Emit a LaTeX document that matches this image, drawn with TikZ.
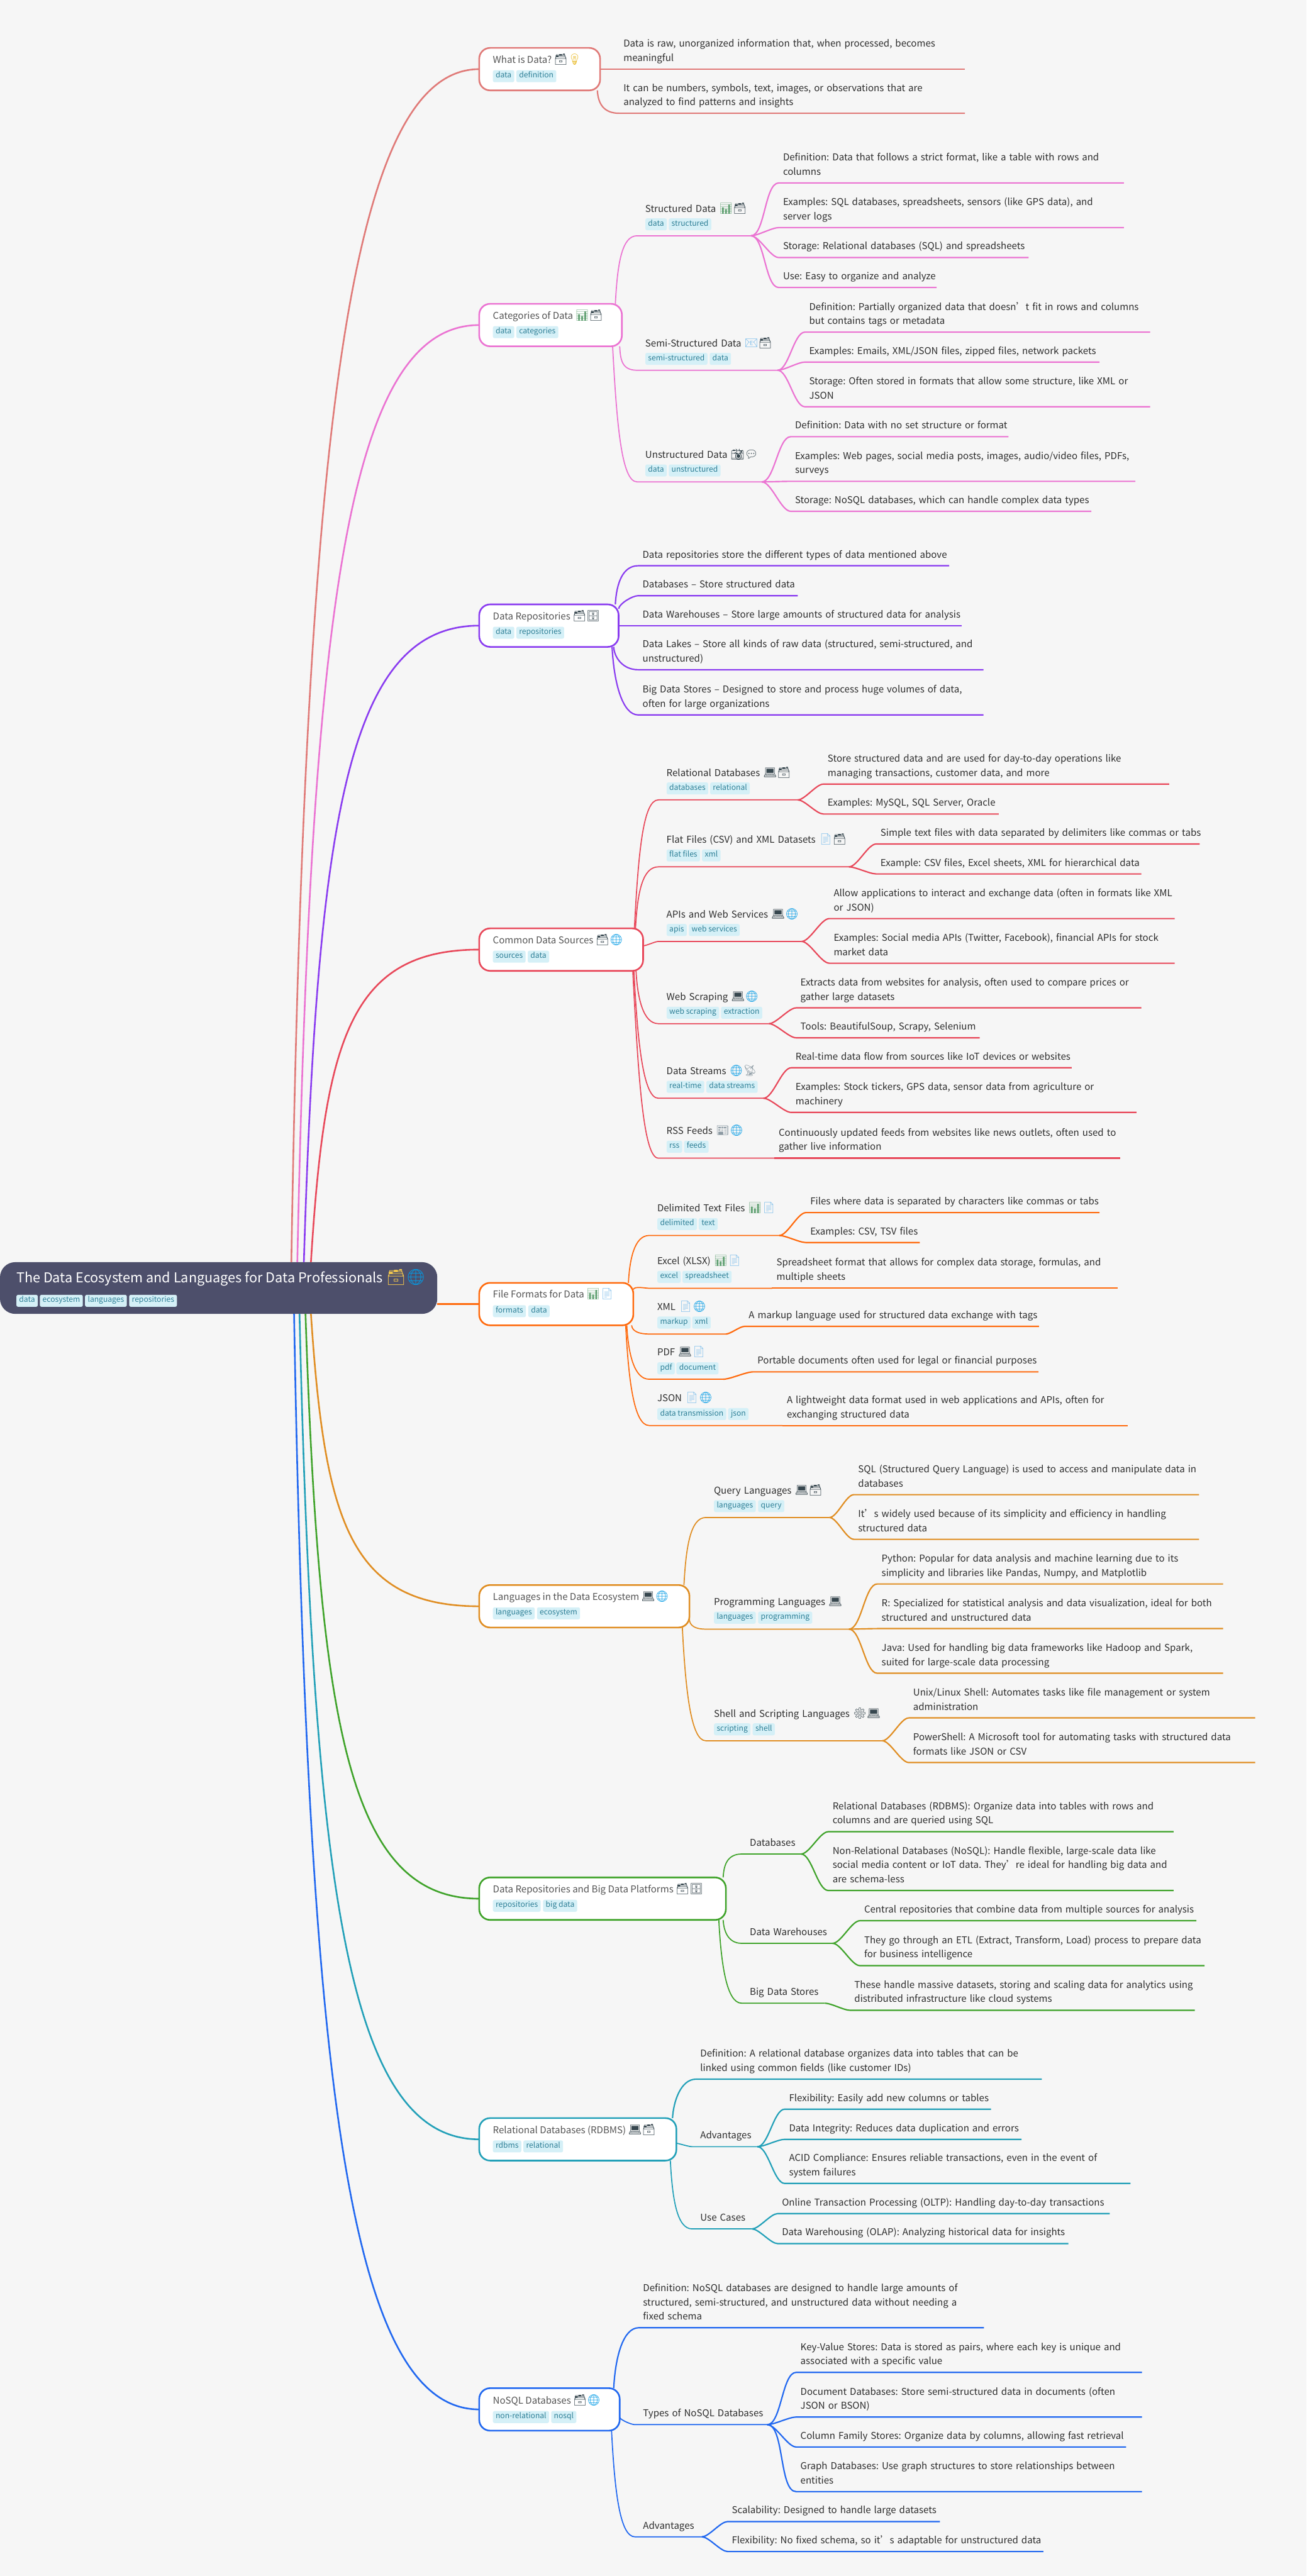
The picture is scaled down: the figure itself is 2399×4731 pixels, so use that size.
\documentclass[tikz,border=0pt]{standalone}
\usepackage{fontspec}
\setmainfont{Noto Sans CJK SC}
\newfontfamily\emojifont[Scale=1.15]{Noto Emoji}
\hyphenpenalty=10000
\exhyphenpenalty=10000
\AtBeginDocument{\frenchspacing}
\definecolor{pagebg}{HTML}{F6F6F6}
\definecolor{rootbg}{HTML}{4D4F6B}
\definecolor{tagbg}{HTML}{D5F0F7}
\definecolor{tagtxt}{HTML}{2E7F96}
\definecolor{titletxt}{HTML}{555555}
\definecolor{leaftxt}{HTML}{2E2E2E}
\definecolor{csalmon}{HTML}{E07A78}
\definecolor{cpink}{HTML}{EB73D2}
\definecolor{cpurple}{HTML}{8A3CF0}
\definecolor{cred}{HTML}{E8485A}
\definecolor{corange}{HTML}{FF6A0D}
\definecolor{camber}{HTML}{E08E23}
\definecolor{cgreen}{HTML}{3FA32A}
\definecolor{cteal}{HTML}{22A0B8}
\definecolor{cblue}{HTML}{2168F0}
\definecolor{idark}{HTML}{37474F}
\definecolor{iyellow}{HTML}{EDC34F}
\definecolor{iglobe}{HTML}{039BE5}
\definecolor{ibulb}{HTML}{E8B820}
\definecolor{ichart}{HTML}{5C9E6E}
\definecolor{ipage}{HTML}{7CBDEB}
\definecolor{igrey}{HTML}{8C9AA3}
\newcommand{\iconcard}{{\emojifont\color{idark}🗃}}
\newcommand{\iconcardroot}{{\emojifont\color{iyellow}🗃}}
\newcommand{\iconglobe}{{\emojifont\color{iglobe}🌐}}
\newcommand{\iconbulb}{{\emojifont\color{ibulb}💡}}
\newcommand{\iconchart}{{\emojifont\color{ichart}📊}}
\newcommand{\iconmail}{{\emojifont\color{ipage}📧}}
\newcommand{\iconcam}{{\emojifont\color{idark}📸}}
\newcommand{\iconchat}{{\emojifont\color{idark}💬}}
\newcommand{\iconcab}{{\emojifont\color{idark}🗄}}
\newcommand{\iconpc}{{\emojifont\color{idark}💻}}
\newcommand{\iconpage}{{\emojifont\color{ipage}📄}}
\newcommand{\icondish}{{\emojifont\color{igrey}📡}}
\newcommand{\iconnews}{{\emojifont\color{igrey}📰}}
\newcommand{\icongear}{{\emojifont\color{idark}⚙}}
\begin{document}
\begin{tikzpicture}[x=1pt,y=-1pt]
    \tikzset{
        rootbox/.style = {rectangle, rounded corners=28pt, fill=rootbg, inner sep=0pt, outer sep=0pt, minimum width=803pt, minimum height=95pt, anchor=north west},
        roottitle/.style = {anchor=west, inner sep=0pt, yshift=-2pt, text=white, text height=18pt, text depth=6pt, font=\fontsize{25}{34}\selectfont},
        topicbox/.style = {rectangle, rounded corners=20pt, draw=#1, fill=white, line width=3pt, inner sep=0pt, outer sep=0pt, minimum height=78pt, anchor=west},
        topictitle/.style = {anchor=west, inner sep=0pt, yshift=-1pt, text=titletxt, text height=13pt, text depth=5pt, font=\fontsize{17.4}{26}\selectfont},
        tagnode/.style = {rectangle, rounded corners=3pt, fill=tagbg, text=tagtxt, anchor=west, inner xsep=5pt, inner ysep=0pt, minimum height=22pt, text height=10pt, text depth=4pt, font=\fontsize{14}{18}\selectfont},
        leaf/.style = {anchor=south west, align=left, inner xsep=8pt, inner ysep=0pt, outer sep=0pt, text=leaftxt, font=\fontsize{17.4}{26}\selectfont, execute at begin node={\rightskip=-60pt plus 1fil}, execute at end node={\rule[-14.5pt]{0pt}{1pt}}},
        sub/.style = {anchor=south west, align=left, inner sep=0pt, outer sep=0pt, text=leaftxt, font=\fontsize{17.4}{26}\selectfont, execute at begin node={\hspace*{15pt}}, execute at end node={\rule[-#1]{0pt}{1pt}}},
        rootedge/.style = {line width=3pt, draw=#1},
        subedge/.style = {line width=2pt, draw=#1},
        leafedge/.style = {line width=2.5pt, draw=#1},
        hubto/.style = {out=0, in=180, looseness=.6},
        rise/.style = {out=87, in=180, out distance=#1, in distance=28pt},
        fall/.style = {out=-87, in=180, out distance=#1, in distance=28pt},
    }
    \path[use as bounding box, fill=pagebg] (0,0) rectangle (2399,4731);
    %
    \node[rootbox] at (0,2318) (root) {};
    \node[roottitle] at (30,2348) (roott) {The Data Ecosystem and Languages for Data Professionals \iconcardroot\iconglobe};
    \node[tagnode] at (30,2389) (rootg1) {data};
    \node[tagnode] at (73,2389) (rootg2) {ecosystem};
    \node[tagnode] at (156,2389) (rootg3) {languages};
    \node[tagnode] at (237,2389) (rootg4) {repositories};
    %
    \node[topicbox=csalmon, minimum width=222pt] at (880,127) (whatis) {};
    \node[topictitle] at (905,111) (whatist) {What is Data? \iconcard\iconbulb};
    \node[tagnode] at (905,140) (whatisg1) {data};
    \node[tagnode] at (948,140) (whatisg2) {definition};
    \node[leaf, text width=619pt] at (1137,127) (wi1) {Data is raw, unorganized information that, when processed, becomes\\meaningful};
    \node[leaf, text width=619pt] at (1137,208) (wi2) {It can be numbers, symbols, text, images, or observations that are\\analyzed to find patterns and insights};
    %
    \node[topicbox=cpink, minimum width=262pt] at (880,597) (cats) {};
    \node[topictitle] at (905,581) (catst) {Categories of Data \iconchart\iconcard};
    \node[tagnode] at (905,610) (catsg1) {data};
    \node[tagnode] at (948,610) (catsg2) {categories};
    \node[sub=43.5pt, text width=209pt] at (1170,433) (sdata) {Structured Data \iconchart\iconcard};
    \node[tagnode] at (1185,412) (sdatag1) {data};
    \node[tagnode] at (1228,412) (sdatag2) {structured};
    \node[leaf, text width=618pt] at (1430,336) (st1) {Definition: Data that follows a strict format, like a table with rows and\\columns};
    \node[leaf, text width=618pt] at (1430,418) (st2) {Examples: SQL databases, spreadsheets, sensors (like GPS data), and\\server logs};
    \node[leaf, text width=443pt] at (1430,473) (st3) {Storage: Relational databases (SQL) and spreadsheets};
    \node[leaf, text width=274pt] at (1430,528) (st4) {Use: Easy to organize and analyze};
    \node[sub=43.5pt, text width=258pt] at (1170,680) (ssdata) {Semi-Structured Data \iconmail\iconcard};
    \node[tagnode] at (1185,659) (ssdatag1) {semi-structured};
    \node[tagnode] at (1303,659) (ssdatag2) {data};
    \node[leaf, text width=618pt] at (1478,610) (ss1) {Definition: Partially organized data that doesn’t fit in rows and columns\\but contains tags or metadata};
    \node[leaf, text width=525pt] at (1478,665) (ss2) {Examples: Emails, XML/JSON files, zipped files, network packets};
    \node[leaf, text width=618pt] at (1478,747) (ss3) {Storage: Often stored in formats that allow some structure, like XML or\\JSON};
    \node[sub=43.5pt, text width=229pt] at (1170,885) (usdata) {Unstructured Data \iconcam\iconchat};
    \node[tagnode] at (1185,864) (usdatag1) {data};
    \node[tagnode] at (1228,864) (usdatag2) {unstructured};
    \node[leaf, text width=384pt] at (1452,802) (us1) {Definition: Data with no set structure or format};
    \node[leaf, text width=617pt] at (1452,884) (us2) {Examples: Web pages, social media posts, images, audio/video files, PDFs,\\surveys};
    \node[leaf, text width=536pt] at (1452,939) (us3) {Storage: NoSQL databases, which can handle complex data types};
    %
    \node[topicbox=cpurple, minimum width=256pt] at (880,1149) (repos) {};
    \node[topictitle] at (905,1133) (repost) {Data Repositories \iconcard\iconcab};
    \node[tagnode] at (905,1162) (reposg1) {data};
    \node[tagnode] at (948,1162) (reposg2) {repositories};
    \node[leaf, text width=555pt] at (1172,1039) (dr1) {Data repositories store the different types of data mentioned above};
    \node[leaf, text width=277pt] at (1172,1094) (dr2) {Databases – Store structured data};
    \node[leaf, text width=578pt] at (1172,1149) (dr3) {Data Warehouses – Store large amounts of structured data for analysis};
    \node[leaf, text width=618pt] at (1172,1230) (dr4) {Data Lakes – Store all kinds of raw data (structured, semi-structured, and\\unstructured)};
    \node[leaf, text width=618pt] at (1172,1313) (dr5) {Big Data Stores – Designed to store and process huge volumes of data,\\often for large organizations};
    %
    \node[topicbox=cred, minimum width=301pt] at (880,1744) (common) {};
    \node[topictitle] at (905,1728) (commont) {Common Data Sources \iconcard\iconglobe};
    \node[tagnode] at (905,1757) (commong1) {sources};
    \node[tagnode] at (969,1757) (commong2) {data};
    \node[sub=43.5pt, text width=256pt] at (1209,1469) (reldb) {Relational Databases \iconpc\iconcard};
    \node[tagnode] at (1224,1448) (reldbg1) {databases};
    \node[tagnode] at (1304,1448) (reldbg2) {relational};
    \node[leaf, text width=619pt] at (1512,1440) (rd1) {Store structured data and are used for day-to-day operations like\\managing transactions, customer data, and more};
    \node[leaf, text width=306pt] at (1512,1495) (rd2) {Examples: MySQL, SQL Server, Oracle};
    \node[sub=43.5pt, text width=350pt] at (1209,1592) (flat) {Flat Files (CSV) and XML Datasets \iconpage\iconcard};
    \node[tagnode] at (1224,1571) (flatg1) {flat files};
    \node[tagnode] at (1289,1571) (flatg2) {xml};
    \node[leaf, text width=578pt] at (1609,1550) (ff1) {Simple text files with data separated by delimiters like commas or tabs};
    \node[leaf, text width=471pt] at (1609,1605) (ff2) {Example: CSV files, Excel sheets, XML for hierarchical data};
    \node[sub=43.5pt, text width=263pt] at (1209,1729) (apis) {APIs and Web Services \iconpc\iconglobe};
    \node[tagnode] at (1224,1708) (apisg1) {apis};
    \node[tagnode] at (1265,1708) (apisg2) {web services};
    \node[leaf, text width=618pt] at (1523,1687) (ap1) {Allow applications to interact and exchange data (often in formats like XML\\or JSON)};
    \node[leaf, text width=618pt] at (1523,1769) (ap2) {Examples: Social media APIs (Twitter, Facebook), financial APIs for stock\\market data};
    \node[sub=43.5pt, text width=203pt] at (1209,1880) (scrape) {Web Scraping \iconpc\iconglobe};
    \node[tagnode] at (1224,1860) (scrapeg1) {web scraping};
    \node[tagnode] at (1324,1860) (scrapeg2) {extraction};
    \node[leaf, text width=618pt] at (1462,1851) (ws1) {Extracts data from websites for analysis, often used to compare prices or\\gather large datasets};
    \node[leaf, text width=321pt] at (1462,1906) (ws2) {Tools: BeautifulSoup, Scrapy, Selenium};
    \node[sub=43.5pt, text width=193pt] at (1209,2017) (streams) {Data Streams \iconglobe\icondish};
    \node[tagnode] at (1224,1996) (streamsg1) {real-time};
    \node[tagnode] at (1297,1996) (streamsg2) {data streams};
    \node[leaf, text width=499pt] at (1453,1961) (ds1) {Real-time data flow from sources like IoT devices or websites};
    \node[leaf, text width=618pt] at (1453,2043) (ds2) {Examples: Stock tickers, GPS data, sensor data from agriculture or\\machinery};
    \node[sub=43.5pt, text width=213pt] at (1209,2127) (rss) {RSS Feeds \iconnews\iconglobe};
    \node[tagnode] at (1224,2106) (rssg1) {rss};
    \node[tagnode] at (1256,2106) (rssg2) {feeds};
    \node[leaf, text width=619pt] at (1422,2127) (rs1) {Continuously updated feeds from websites like news outlets, often used to\\gather live information};
    %
    \node[topicbox=corange, minimum width=283pt] at (880,2395) (fmt) {};
    \node[topictitle] at (905,2378) (fmtt) {File Formats for Data \iconchart\iconpage};
    \node[tagnode] at (905,2408) (fmtg1) {formats};
    \node[tagnode] at (970,2408) (fmtg2) {data};
    \node[sub=43.5pt, text width=239pt] at (1192,2269) (delim) {Delimited Text Files \iconchart\iconpage};
    \node[tagnode] at (1207,2248) (delimg1) {delimited};
    \node[tagnode] at (1283,2248) (delimg2) {text};
    \node[leaf, text width=523pt] at (1480,2227) (dt1) {Files where data is separated by characters like commas or tabs};
    \node[leaf, text width=193pt] at (1480,2282) (dt2) {Examples: CSV, TSV files};
    \node[sub=43.5pt, text width=226pt] at (1192,2366) (excel) {Excel (XLSX) \iconchart\iconpage};
    \node[tagnode] at (1207,2345) (excelg1) {excel};
    \node[tagnode] at (1253,2345) (excelg2) {spreadsheet};
    \node[leaf, text width=618pt] at (1418,2365) (ex1) {Spreadsheet format that allows for complex data storage, formulas, and\\multiple sheets};
    \node[sub=43.5pt, text width=141pt] at (1192,2450) (xmlf) {XML \iconpage\iconglobe};
    \node[tagnode] at (1207,2429) (xmlfg1) {markup};
    \node[tagnode] at (1271,2429) (xmlfg2) {xml};
    \node[leaf, text width=525pt] at (1367,2436) (xm1) {A markup language used for structured data exchange with tags};
    \node[sub=43.5pt, text width=136pt] at (1192,2533) (pdff) {PDF \iconpc\iconpage};
    \node[tagnode] at (1207,2513) (pdffg1) {pdf};
    \node[tagnode] at (1242,2513) (pdffg2) {document};
    \node[leaf, text width=508pt] at (1383,2519.5) (pd1) {Portable documents often used for legal or financial purposes};
    \node[sub=43.5pt, text width=245pt] at (1192,2618) (jsonf) {JSON \iconpage\iconglobe};
    \node[tagnode] at (1207,2597) (jsonfg1) {data transmission};
    \node[tagnode] at (1337,2597) (jsonfg2) {json};
    \node[leaf, text width=618pt] at (1437,2618) (js1) {A lightweight data format used in web applications and APIs, often for\\exchanging structured data};
    %
    \node[topicbox=camber, minimum width=386pt] at (880,2950) (lang) {};
    \node[topictitle] at (905,2934) (langt) {Languages in the Data Ecosystem \iconpc\iconglobe};
    \node[tagnode] at (905,2963) (langg1) {languages};
    \node[tagnode] at (986,2963) (langg2) {ecosystem};
    \node[sub=43.5pt, text width=227pt] at (1296,2787) (query) {Query Languages \iconpc\iconcard};
    \node[tagnode] at (1311,2766) (queryg1) {languages};
    \node[tagnode] at (1392,2766) (queryg2) {query};
    \node[leaf, text width=618pt] at (1568,2745) (ql1) {SQL (Structured Query Language) is used to access and manipulate data in\\databases};
    \node[leaf, text width=618pt] at (1568,2827) (ql2) {It’s widely used because of its simplicity and efficiency in handling\\structured data};
    \node[sub=43.5pt, text width=263pt] at (1296,2992) (prog) {Programming Languages \iconpc};
    \node[tagnode] at (1311,2971) (progg1) {languages};
    \node[tagnode] at (1392,2971) (progg2) {programming};
    \node[leaf, text width=619pt] at (1611,2909) (pl1) {Python: Popular for data analysis and machine learning due to its\\simplicity and libraries like Pandas, Numpy, and Matplotlib};
    \node[leaf, text width=619pt] at (1611,2991) (pl2) {R: Specialized for statistical analysis and data visualization, ideal for both\\structured and unstructured data};
    \node[leaf, text width=619pt] at (1611,3073) (pl3) {Java: Used for handling big data frameworks like Hadoop and Spark,\\suited for large-scale data processing};
    \node[sub=43.5pt, text width=324pt] at (1296,3197) (shell) {Shell and Scripting Languages \icongear\iconpc};
    \node[tagnode] at (1311,3176) (shellg1) {scripting};
    \node[tagnode] at (1382,3176) (shellg2) {shell};
    \node[leaf, text width=620pt] at (1669,3155) (sh1) {Unix/Linux Shell: Automates tasks like file management or system\\administration};
    \node[leaf, text width=620pt] at (1669,3237) (sh2) {PowerShell: A Microsoft tool for automating tasks with structured data\\formats like JSON or CSV};
    %
    \node[topicbox=cgreen, minimum width=453pt] at (880,3487) (plat) {};
    \node[topictitle] at (905,3471) (platt) {Data Repositories and Big Data Platforms \iconcard\iconcab};
    \node[tagnode] at (905,3500) (platg1) {repositories};
    \node[tagnode] at (997,3500) (platg2) {big data};
    \node[sub=14.5pt, text width=109pt] at (1362,3405) (bdb) {Databases};
    \node[leaf, text width=618pt] at (1521,3364) (bd1) {Relational Databases (RDBMS): Organize data into tables with rows and\\columns and are queried using SQL};
    \node[leaf, text width=618pt] at (1521,3472) (bd2) {Non-Relational Databases (NoSQL): Handle flexible, large-scale data like\\social media content or IoT data. They’re ideal for handling big data and\\are schema-less};
    \node[sub=14.5pt, text width=167pt] at (1362,3569) (bdw) {Data Warehouses};
    \node[leaf, text width=602pt] at (1579,3527.5) (bw1) {Central repositories that combine data from multiple sources for analysis};
    \node[leaf, text width=617pt] at (1579,3610) (bw2) {They go through an ETL (Extract, Transform, Load) process to prepare data\\for business intelligence};
    \node[sub=14.5pt, text width=153pt] at (1362,3679) (bds) {Big Data Stores};
    \node[leaf, text width=617pt] at (1561,3692) (bs1) {These handle massive datasets, storing and scaling data for analytics using\\distributed infrastructure like cloud systems};
    %
    \node[topicbox=cteal, minimum width=362pt] at (880,3929) (rdbms) {};
    \node[topictitle] at (905,3913) (rdbmst) {Relational Databases (RDBMS) \iconpc\iconcard};
    \node[tagnode] at (905,3942) (rdbmsg1) {rdbms};
    \node[tagnode] at (961,3942) (rdbmsg2) {relational};
    \node[leaf, text width=619pt] at (1278,3818.5) (rl1) {Definition: A relational database organizes data into tables that can be\\linked using common fields (like customer IDs)};
    \node[sub=14.5pt, text width=120pt] at (1271,3942.5) (radv) {Advantages};
    \node[leaf, text width=363pt] at (1441,3873.6) (ra1) {Flexibility: Easily add new columns or tables};
    \node[leaf, text width=419pt] at (1441,3929) (ra2) {Data Integrity: Reduces data duplication and errors};
    \node[leaf, text width=619pt] at (1441,4010) (ra3) {ACID Compliance: Ensures reliable transactions, even in the event of\\system failures};
    \node[sub=14.5pt, text width=110pt] at (1271,4093.5) (ruse) {Use Cases};
    \node[leaf, text width=594pt] at (1428,4065.4) (ru1) {Online Transaction Processing (OLTP): Handling day-to-day transactions};
    \node[leaf, text width=518pt] at (1428,4120.5) (ru2) {Data Warehousing (OLAP): Analyzing historical data for insights};
    %
    \node[topicbox=cblue, minimum width=258pt] at (880,4425) (nosql) {};
    \node[topictitle] at (905,4410) (nosqlt) {NoSQL Databases \iconcard\iconglobe};
    \node[tagnode] at (905,4439) (nosqlg1) {non-relational};
    \node[tagnode] at (1012,4439) (nosqlg2) {nosql};
    \node[leaf, text width=618pt] at (1173,4275) (nq1) {Definition: NoSQL databases are designed to handle large amounts of\\structured, semi-structured, and unstructured data without needing a\\fixed schema};
    \node[sub=14.5pt, text width=243pt] at (1166,4453) (ntypes) {Types of NoSQL Databases};
    \node[leaf, text width=619pt] at (1462,4357) (nt1) {Key-Value Stores: Data is stored as pairs, where each key is unique and\\associated with a specific value};
    \node[leaf, text width=619pt] at (1462,4439) (nt2) {Document Databases: Store semi-structured data in documents (often\\JSON or BSON)};
    \node[leaf, text width=590pt] at (1462,4494) (nt3) {Column Family Stores: Organize data by columns, allowing fast retrieval};
    \node[leaf, text width=619pt] at (1462,4576) (nt4) {Graph Databases: Use graph structures to store relationships between\\entities};
    \node[sub=14.5pt, text width=123pt] at (1166,4659) (nadv) {Advantages};
    \node[leaf, text width=374pt] at (1336,4631) (na1) {Scalability: Designed to handle large datasets};
    \node[leaf, text width=564pt] at (1336,4686) (na2) {Flexibility: No fixed schema, so it’s adaptable for unstructured data};
    %
    \draw[rootedge=csalmon] ([xshift=133.5pt]root.north) .. controls (560,800) and (640,127) .. (whatis.west);
    \draw[rootedge=cpink] ([xshift=144.5pt]root.north) .. controls (571,1113) and (640,597) .. (cats.west);
    \draw[rootedge=cpurple] ([xshift=156.5pt]root.north) .. controls (583,1500) and (640,1149) .. (repos.west);
    \draw[rootedge=cred] ([xshift=169.5pt]root.north) .. controls (596,1916) and (640,1744) .. (common.west);
    \draw[rootedge=corange, line width=4pt] (root.east |- fmt.west) -- (fmt.west);
    \draw[rootedge=camber] ([xshift=169.5pt]root.south) .. controls (596,2789) and (640,2950) .. (lang.west);
    \draw[rootedge=cgreen] ([xshift=159.5pt]root.south) .. controls (586,3165) and (640,3487) .. (plat.west);
    \draw[rootedge=cteal] ([xshift=148.5pt]root.south) .. controls (575,3474) and (640,3929) .. (rdbms.west);
    \draw[rootedge=cblue] ([xshift=138.5pt]root.south) .. controls (565,3821) and (640,4425) .. (nosql.west);
    %
    \draw[leafedge=csalmon] (whatis.east) -- (wi1.south west) -- (wi1.south east);
    \draw[leafedge=csalmon] ([xshift=-5pt]whatis.south east) to[fall=25pt] (wi2.south west) -- (wi2.south east);
    %
    \draw[subedge=cpink] ([xshift=-12pt]cats.north east) to[rise=75pt] (sdata.south west) -- (sdata.south east);
    \draw[leafedge=cpink] (sdata.south east) to[hubto] (st1.south west) -- (st1.south east);
    \draw[leafedge=cpink] (sdata.south east) to[hubto] (st2.south west) -- (st2.south east);
    \draw[leafedge=cpink] (sdata.south east) to[hubto] (st3.south west) -- (st3.south east);
    \draw[leafedge=cpink] (sdata.south east) to[hubto] (st4.south west) -- (st4.south east);
    \draw[subedge=cpink] ([xshift=-4pt]cats.south east) to[fall=25pt] (ssdata.south west) -- (ssdata.south east);
    \draw[leafedge=cpink] (ssdata.south east) to[hubto] (ss1.south west) -- (ss1.south east);
    \draw[leafedge=cpink] (ssdata.south east) to[hubto] (ss2.south west) -- (ss2.south east);
    \draw[leafedge=cpink] (ssdata.south east) to[hubto] (ss3.south west) -- (ss3.south east);
    \draw[subedge=cpink] ([xshift=-17pt]cats.south east) to[fall=150pt] (usdata.south west) -- (usdata.south east);
    \draw[leafedge=cpink] (usdata.south east) to[hubto] (us1.south west) -- (us1.south east);
    \draw[leafedge=cpink] (usdata.south east) to[hubto] (us2.south west) -- (us2.south east);
    \draw[leafedge=cpink] (usdata.south east) to[hubto] (us3.south west) -- (us3.south east);
    %
    \draw[leafedge=cpurple] ([xshift=-6pt]repos.north east) to[rise=40pt] (dr1.south west) -- (dr1.south east);
    \draw[leafedge=cpurple] ([yshift=-8pt]repos.north east) to[out=80, in=180, looseness=.6] (dr2.south west) -- (dr2.south east);
    \draw[leafedge=cpurple] (repos.east) -- (dr3.south west) -- (dr3.south east);
    \draw[leafedge=cpurple] ([xshift=-9pt]repos.south east) to[fall=20pt] (dr4.south west) -- (dr4.south east);
    \draw[leafedge=cpurple] ([xshift=-12pt]repos.south east) to[fall=70pt] (dr5.south west) -- (dr5.south east);
    %
    \draw[subedge=cred] ([xshift=-16pt]common.north east) to[rise=140pt] (reldb.south west) -- (reldb.south east);
    \draw[leafedge=cred] (reldb.south east) to[hubto] (rd1.south west) -- (rd1.south east);
    \draw[leafedge=cred] (reldb.south east) to[hubto] (rd2.south west) -- (rd2.south east);
    \draw[subedge=cred] ([xshift=-14pt]common.north east) to[rise=70pt] (flat.south west) -- (flat.south east);
    \draw[leafedge=cred] (flat.south east) to[hubto] (ff1.south west) -- (ff1.south east);
    \draw[leafedge=cred] (flat.south east) to[hubto] (ff2.south west) -- (ff2.south east);
    \draw[subedge=cred] ([yshift=7pt]common.east) to[out=0, in=180, looseness=.5] (apis.south west) -- (apis.south east);
    \draw[leafedge=cred] (apis.south east) to[hubto] (ap1.south west) -- (ap1.south east);
    \draw[leafedge=cred] (apis.south east) to[hubto] (ap2.south west) -- (ap2.south east);
    \draw[subedge=cred] ([xshift=-13pt]common.south east) to[fall=50pt] (scrape.south west) -- (scrape.south east);
    \draw[leafedge=cred] (scrape.south east) to[hubto] (ws1.south west) -- (ws1.south east);
    \draw[leafedge=cred] (scrape.south east) to[hubto] (ws2.south west) -- (ws2.south east);
    \draw[subedge=cred] ([xshift=-17pt]common.south east) to[fall=130pt] (streams.south west) -- (streams.south east);
    \draw[leafedge=cred] (streams.south east) to[hubto] (ds1.south west) -- (ds1.south east);
    \draw[leafedge=cred] (streams.south east) to[hubto] (ds2.south west) -- (ds2.south east);
    \draw[subedge=cred] ([xshift=-19pt]common.south east) to[fall=190pt] (rss.south west) -- (rss.south east);
    \draw[leafedge=cred] (rss.south east) -- (rs1.south west) -- (rs1.south east);
    %
    \draw[subedge=corange] ([xshift=-9pt]fmt.north east) to[rise=40pt] (delim.south west) -- (delim.south east);
    \draw[leafedge=corange] (delim.south east) to[hubto] (dt1.south west) -- (dt1.south east);
    \draw[leafedge=corange] (delim.south east) to[hubto] (dt2.south west) -- (dt2.south east);
    \draw[subedge=corange] ([yshift=-12pt]fmt.north east) to[out=70, in=180, looseness=.6] (excel.south west) -- (excel.south east);
    \draw[leafedge=corange] (excel.south east) -- (ex1.south west) -- (ex1.south east);
    \draw[subedge=corange] ([xshift=-3pt]fmt.south east) to[fall=5pt] (xmlf.south west) -- (xmlf.south east);
    \draw[leafedge=corange] (xmlf.south east) to[hubto] (xm1.south west) -- (xm1.south east);
    \draw[subedge=corange] ([xshift=-12pt]fmt.south east) to[fall=50pt] (pdff.south west) -- (pdff.south east);
    \draw[leafedge=corange] (pdff.south east) to[hubto] (pd1.south west) -- (pd1.south east);
    \draw[subedge=corange] ([xshift=-14pt]fmt.south east) to[fall=100pt] (jsonf.south west) -- (jsonf.south east);
    \draw[leafedge=corange] (jsonf.south east) -- (js1.south west) -- (js1.south east);
    %
    \draw[subedge=camber] ([xshift=-10pt]lang.north east) to[rise=70pt] (query.south west) -- (query.south east);
    \draw[leafedge=camber] (query.south east) to[hubto] (ql1.south west) -- (ql1.south east);
    \draw[leafedge=camber] (query.south east) to[hubto] (ql2.south west) -- (ql2.south east);
    \draw[subedge=camber] ([yshift=15pt]lang.south east) to[fall=5pt] (prog.south west) -- (prog.south east);
    \draw[leafedge=camber] (prog.south east) to[hubto] (pl1.south west) -- (pl1.south east);
    \draw[leafedge=camber] (prog.south east) to[hubto] (pl2.south west) -- (pl2.south east);
    \draw[leafedge=camber] (prog.south east) to[hubto] (pl3.south west) -- (pl3.south east);
    \draw[subedge=camber] ([xshift=-13pt]lang.south east) to[fall=110pt] (shell.south west) -- (shell.south east);
    \draw[leafedge=camber] (shell.south east) to[hubto] (sh1.south west) -- (sh1.south east);
    \draw[leafedge=camber] (shell.south east) to[hubto] (sh2.south west) -- (sh2.south east);
    %
    \draw[subedge=cgreen] ([xshift=-5pt]plat.north east) to[rise=20pt] (bdb.south west) -- (bdb.south east);
    \draw[leafedge=cgreen] (bdb.south east) to[hubto] (bd1.south west) -- (bd1.south east);
    \draw[leafedge=cgreen] (bdb.south east) to[hubto] (bd2.south west) -- (bd2.south east);
    \draw[subedge=cgreen] ([xshift=-5pt]plat.south east) to[fall=15pt] (bdw.south west) -- (bdw.south east);
    \draw[leafedge=cgreen] (bdw.south east) to[hubto] (bw1.south west) -- (bw1.south east);
    \draw[leafedge=cgreen] (bdw.south east) to[hubto] (bw2.south west) -- (bw2.south east);
    \draw[subedge=cgreen] ([xshift=-13pt]plat.south east) to[fall=80pt] (bds.south west) -- (bds.south east);
    \draw[leafedge=cgreen] (bds.south east) to[hubto] (bs1.south west) -- (bs1.south east);
    %
    \draw[leafedge=cteal] ([xshift=-7pt]rdbms.north east) to[rise=30pt] (rl1.south west) -- (rl1.south east);
    \draw[subedge=cteal] ([yshift=-7pt]rdbms.east) to[out=-10, in=180, looseness=.5] (radv.south west) -- (radv.south east);
    \draw[leafedge=cteal] (radv.south east) to[hubto] (ra1.south west) -- (ra1.south east);
    \draw[leafedge=cteal] (radv.south east) to[hubto] (ra2.south west) -- (ra2.south east);
    \draw[leafedge=cteal] (radv.south east) to[hubto] (ra3.south west) -- (ra3.south east);
    \draw[subedge=cteal] ([xshift=-11pt]rdbms.south east) to[fall=70pt] (ruse.south west) -- (ruse.south east);
    \draw[leafedge=cteal] (ruse.south east) to[hubto] (ru1.south west) -- (ru1.south east);
    \draw[leafedge=cteal] (ruse.south east) to[hubto] (ru2.south west) -- (ru2.south east);
    %
    \draw[leafedge=cblue] ([xshift=-11pt]nosql.north east) to[rise=60pt] (nq1.south west) -- (nq1.south east);
    \draw[subedge=cblue] ([yshift=-15pt]nosql.east) to[out=-60, in=180, looseness=.5] (ntypes.south west) -- (ntypes.south east);
    \draw[leafedge=cblue] (ntypes.south east) to[hubto] (nt1.south west) -- (nt1.south east);
    \draw[leafedge=cblue] (ntypes.south east) to[hubto] (nt2.south west) -- (nt2.south east);
    \draw[leafedge=cblue] (ntypes.south east) to[hubto] (nt3.south west) -- (nt3.south east);
    \draw[leafedge=cblue] (ntypes.south east) to[hubto] (nt4.south west) -- (nt4.south east);
    \draw[subedge=cblue] ([xshift=-15pt]nosql.south east) to[fall=110pt] (nadv.south west) -- (nadv.south east);
    \draw[leafedge=cblue] (nadv.south east) to[hubto] (na1.south west) -- (na1.south east);
    \draw[leafedge=cblue] (nadv.south east) to[hubto] (na2.south west) -- (na2.south east);
\end{tikzpicture}
\end{document}
